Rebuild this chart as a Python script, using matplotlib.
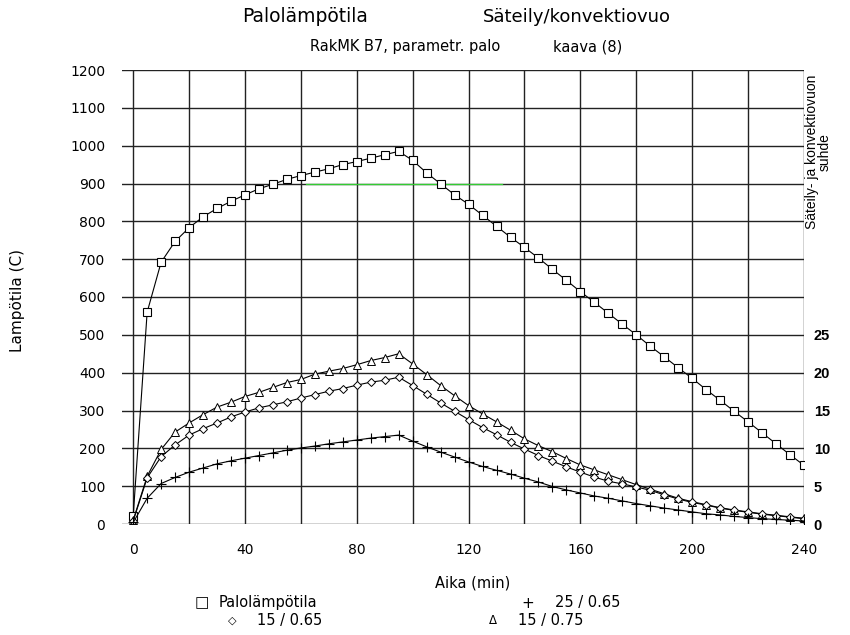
import matplotlib.pyplot as plt
from matplotlib.ticker import MultipleLocator

plt.rcParams['font.family'] = ['DejaVu Sans']

# time (min), every 5 min
t = list(range(0, 245, 5))

palo = [20, 560, 692, 747, 783, 812, 834, 853, 870, 886, 898, 911, 921, 930, 939, 950,
        958, 967, 976, 985, 961, 928, 899, 870, 845, 816, 787, 758, 731, 703, 673, 644,
        614, 586, 557, 528, 500, 470, 442, 413, 385, 355, 327, 298, 270, 241, 212, 183, 155]

s15_075 = [10, 126, 197, 243, 267, 289, 309, 322, 337, 348, 361, 374, 382, 396, 404, 411,
           421, 432, 440, 450, 423, 395, 366, 339, 313, 291, 270, 248, 225, 207, 191, 173,
           156, 143, 130, 117, 104, 92, 80, 68, 59, 51, 43, 37, 32, 27, 23, 19, 15]

s15_065 = [8, 122, 178, 209, 235, 252, 267, 283, 296, 307, 315, 323, 333, 342, 351, 358,
           367, 375, 380, 388, 366, 343, 320, 298, 276, 255, 236, 216, 198, 181, 166, 151,
           137, 124, 113, 106, 98, 89, 77, 66, 57, 50, 42, 36, 31, 26, 22, 18, 14]

s25_065 = [4, 68, 107, 123, 137, 148, 159, 167, 174, 181, 188, 195, 201, 206, 212, 217,
           222, 227, 231, 235, 219, 204, 190, 177, 164, 152, 142, 132, 121, 111, 99, 90,
           82, 74, 68, 61, 54, 48, 42, 37, 32, 27, 24, 20, 17, 14, 12, 10, 8]

ratio_ticks = [0, 5, 10, 15, 20, 25]

fig = plt.figure(figsize=(8.5, 6.35), dpi=100)
ax = fig.add_axes([122/850, 1 - 524/635, (804 - 122)/850, (524 - 70)/635])

lw = 0.8
ax.plot(t, palo, 's-', color='black', mfc='white', mec='black', ms=5.8, mew=0.8, lw=lw, zorder=3)
ax.plot(t, s15_075, '^-', color='black', mfc='white', mec='black', ms=5.2, mew=0.7, lw=lw, zorder=3)
ax.plot(t, s15_065, 'D-', color='black', mfc='white', mec='black', ms=3.8, mew=0.7, lw=lw, zorder=3)
ax.plot(t, s25_065, '+-', color='black', ms=7, mew=0.8, lw=lw, zorder=3)

# scanner streak
ax.plot([62, 132], [900, 900], color='#33cc33', lw=0.9, zorder=2)

ax.set_xlim(-4, 240)
ax.set_ylim(0, 1200)
ax.xaxis.set_major_locator(MultipleLocator(40))
ax.xaxis.set_minor_locator(MultipleLocator(20))
ax.yaxis.set_major_locator(MultipleLocator(100))
ax.grid(which='both', color='#222222', lw=1.0)
ax.set_axisbelow(True)
for s in ax.spines.values():
    s.set_visible(False)
ax.tick_params(which='both', length=0)
ax.tick_params(axis='x', pad=14, labelsize=10)
ax.tick_params(axis='y', pad=12, labelsize=10)

ax2 = ax.twinx()
ax2.set_ylim(0, 60)
ax2.set_yticks(ratio_ticks)
for s in ax2.spines.values():
    s.set_visible(False)
ax2.tick_params(length=0, pad=7, labelsize=10.5)
for lab in ax2.get_yticklabels():
    lab.set_family('Liberation Sans')
    lab.set_weight('bold')

fig.text(305/850, 1 - 17/635, 'Palolämpötila', fontsize=13.5, ha='center', va='center')
fig.text(577/850, 1 - 17/635, 'Säteily/konvektiovuo', fontsize=13, ha='center', va='center')
fig.text(405/850, 1 - 47/635, 'RakMK B7, parametr. palo', fontsize=10.5, ha='center', va='center')
fig.text(588/850, 1 - 47/635, 'kaava (8)', fontsize=10.5, ha='center', va='center')

fig.text(473/850, 1 - 583/635, 'Aika (min)', fontsize=10.5, ha='center', va='center')
fig.text(18/850, 1 - 301/635, 'Lampötila (C)', fontsize=11, rotation=90, ha='center', va='center')
fig.text(818/850, 1 - 152/635, 'Säteily- ja konvektiovuon\nsuhde', fontsize=10, rotation=90,
         ha='center', va='center', family='Liberation Sans', linespacing=0.9)

# legend as plain text rows
fig.text(202/850, 1 - 603/635, '□', fontsize=11, ha='center', va='center')
fig.text(219/850, 1 - 603/635, 'Palolämpötila', fontsize=10.5, ha='left', va='center')
fig.text(528/850, 1 - 603/635, '+', fontsize=11, ha='center', va='center')
fig.text(555/850, 1 - 603/635, '25 / 0.65', fontsize=10.5, ha='left', va='center')
fig.text(232/850, 1 - 621/635, '◇', fontsize=8, ha='center', va='center')
fig.text(257/850, 1 - 621/635, '15 / 0.65', fontsize=10.5, ha='left', va='center')
fig.text(493/850, 1 - 621/635, 'Δ', fontsize=8.5, ha='center', va='center')
fig.text(518/850, 1 - 621/635, '15 / 0.75', fontsize=10.5, ha='left', va='center')

plt.savefig('out.png', dpi=100)
